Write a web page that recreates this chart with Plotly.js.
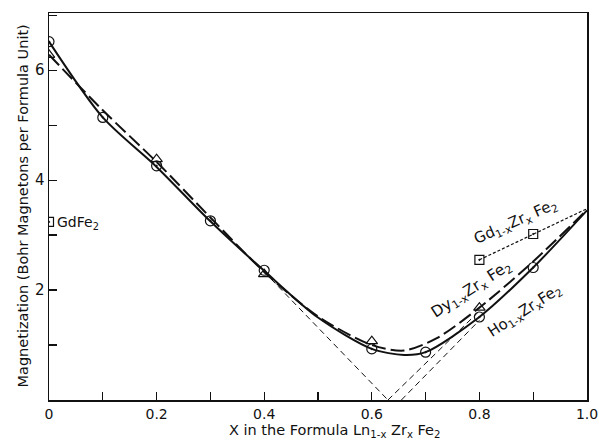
<!DOCTYPE html>
<html><head><meta charset="utf-8">
<script src="https://cdn.plot.ly/plotly-3.0.1.min.js"></script>
<style>body{margin:0;background:#fff}#c{width:599px;height:440px}</style>
</head><body><div id="c"></div>
<script>
// Measured points
const hoX = [0, 0.1, 0.2, 0.3, 0.4, 0.6, 0.7, 0.8, 0.9];
const hoY = [6.52, 5.14, 4.26, 3.26, 2.36, 0.93, 0.87, 1.51, 2.41];
const dyX = [0, 0.2, 0.4, 0.6, 0.8];
const dyY = [6.28, 4.38, 2.29, 1.07, 1.68];
const gdX = [0, 0.8, 0.9];
const gdY = [3.24, 2.55, 3.02];
// Drawn curves
const hoCurveX = [0, 0.1, 0.2, 0.3, 0.4, 0.5, 0.6, 0.66, 0.7, 0.8, 0.9, 1.0];
const hoCurveY = [6.52, 5.14, 4.24, 3.25, 2.35, 1.5, 0.93, 0.82, 0.87, 1.51, 2.41, 3.45];
const dyCurveX = [0, 0.1, 0.2, 0.3, 0.4, 0.5, 0.6, 0.66, 0.72, 0.8, 0.9, 1.0];
const dyCurveY = [6.28, 5.27, 4.33, 3.32, 2.33, 1.52, 1.0, 0.9, 1.12, 1.68, 2.52, 3.46];
const gdCurveX = [0.8, 0.9, 1.0];
const gdCurveY = [2.55, 3.02, 3.48];
// Extrapolation lines
const extDownX = [0.4, 0.63];
const extDownY = [2.33, 0];
const extUp1X = [0.63, 0.8];
const extUp1Y = [0, 1.62];
const extUp2X = [0.655, 0.8];
const extUp2Y = [0, 1.45];
// Ticks
const xTickVals = [0, 0.2, 0.4, 0.6, 0.8, 1.0];
const xTickText = ["0", "0.2", "0.4", "0.6", "0.8", "1.0"];
const yTickVals = [2, 4, 6];
const yTickText = ["2", "4", "6"];

const F = "DejaVu Sans, Arial, sans-serif";
const blk = "#111";
const traces = [
  {x: extDownX, y: extDownY, mode: "lines", line: {color: blk, width: 1, dash: "6px,4px"}},
  {x: extUp1X, y: extUp1Y, mode: "lines", line: {color: blk, width: 1, dash: "6px,4px"}},
  {x: extUp2X, y: extUp2Y, mode: "lines", line: {color: blk, width: 1, dash: "6px,4px"}},
  {x: hoCurveX, y: hoCurveY, mode: "lines", line: {color: blk, width: 2, shape: "spline", smoothing: 0.8}},
  {x: dyCurveX, y: dyCurveY, mode: "lines", line: {color: blk, width: 2, shape: "spline", smoothing: 0.8, dash: "14px,5px"}},
  {x: gdCurveX, y: gdCurveY, mode: "lines", line: {color: blk, width: 1.2, dash: "3px,2px"}},
  {x: dyX, y: dyY, mode: "markers", marker: {symbol: "triangle-up-open", size: 10, color: blk, line: {width: 1.2}}},
  {x: hoX, y: hoY, mode: "markers", marker: {symbol: "circle-open-dot", size: 10, color: blk, line: {width: 1.2}}},
  {x: gdX, y: gdY, mode: "markers", marker: {symbol: "square-open-dot", size: 9, color: blk, line: {width: 1.2}}}
];
const layout = {
  width: 599, height: 440,
  margin: {l: 49, r: 12, t: 13, b: 40},
  paper_bgcolor: "#fff", plot_bgcolor: "#fff",
  showlegend: false,
  font: {family: F, color: blk},
  xaxis: {
    range: [0, 1.0], tickvals: xTickVals, ticktext: xTickText,
    ticks: "inside", ticklen: 8, tickwidth: 1.2, tickcolor: blk,
    minor: {dtick: 0.1, ticks: "inside", ticklen: 8, tickwidth: 1.2, tickcolor: blk, showgrid: false},
    showline: true, linecolor: blk, linewidth: 1.5, mirror: true,
    showgrid: false, zeroline: false,
    tickfont: {size: 14, family: F}, ticklabelstandoff: 1
  },
  yaxis: {
    range: [0, 7.04], tickvals: yTickVals, ticktext: yTickText,
    ticks: "inside", ticklen: 8, tickwidth: 1.2, tickcolor: blk,
    minor: {dtick: 1, ticks: "inside", ticklen: 8, tickwidth: 1.2, tickcolor: blk, showgrid: false},
    showline: true, linecolor: blk, linewidth: 1.5, mirror: true,
    showgrid: false, zeroline: false,
    tickfont: {size: 15, family: F}
  },
  annotations: [
    {x: 0, y: 0.5, xref: "paper", yref: "paper", xshift: -37, text: "Magnetization (Bohr Magnetons per Formula Unit)", showarrow: false, textangle: -90, font: {size: 14.5, family: F}},
    {x: 0.53, y: 0, xref: "paper", yref: "paper", yshift: -31, yanchor: "middle", text: "X in the Formula Ln<sub>1-x</sub> Zr<sub>x</sub> Fe<sub>2</sub>", showarrow: false, font: {size: 14.5, family: F}},
    {x: 0.012, y: 3.22, xref: "x", yref: "y", text: "GdFe<sub>2</sub>", showarrow: false, xanchor: "left", yanchor: "middle", font: {size: 14, family: F}},
    {x: 0.868, y: 3.25, xref: "x", yref: "y", text: "Gd<sub>1-x</sub>Zr<sub>x</sub> Fe<sub>2</sub>", showarrow: false, textangle: -24, font: {size: 15, family: F}},
    {x: 0.785, y: 2.0, xref: "x", yref: "y", text: "Dy<sub>1-x</sub>Zr<sub>x</sub> Fe<sub>2</sub>", showarrow: false, textangle: -33, font: {size: 15.5, family: F}},
    {x: 0.885, y: 1.62, xref: "x", yref: "y", text: "Ho<sub>1-x</sub>Zr<sub>x</sub>Fe<sub>2</sub>", showarrow: false, textangle: -33, font: {size: 15, family: F}}
  ]
};
Plotly.newPlot("c", traces, layout, {staticPlot: true});
</script></body></html>
